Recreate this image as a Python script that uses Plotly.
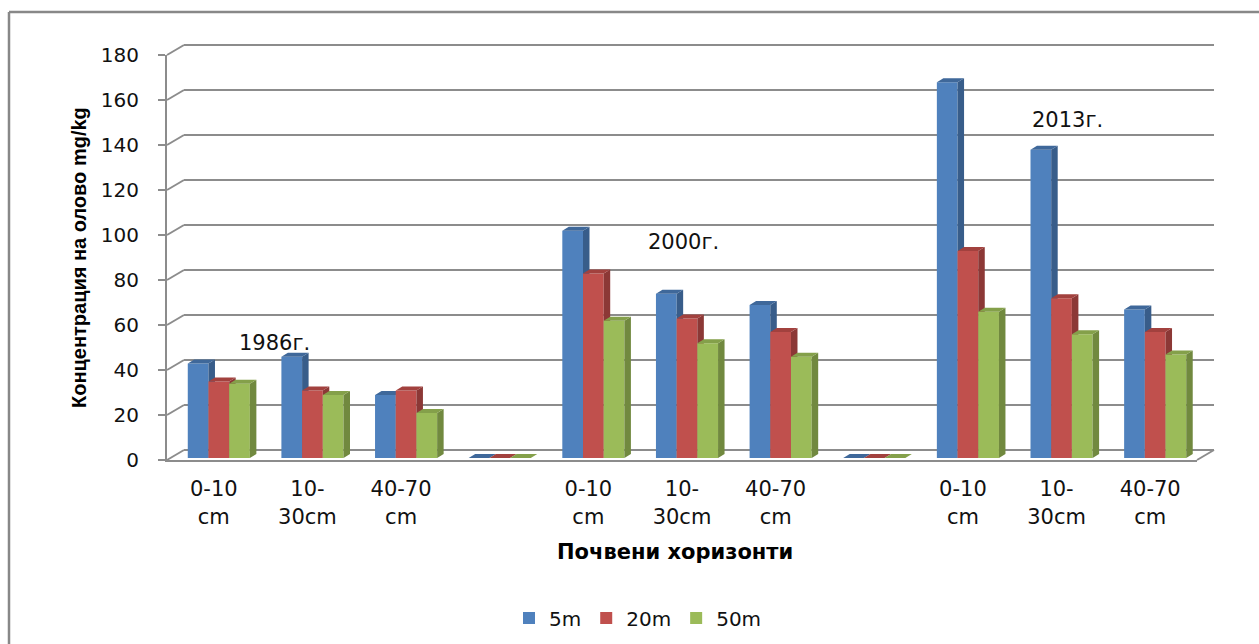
import plotly.graph_objects as go

# ---- data -------------------------------------------------------------
horizons = ["0-10<br>cm", "10-<br>30cm", "40-70<br>cm", "",
            "0-10<br>cm", "10-<br>30cm", "40-70<br>cm", "",
            "0-10<br>cm", "10-<br>30cm", "40-70<br>cm"]
series_names = ["5m", "20m", "50m"]
lead_5m = [42, 45, 28, 0, 101, 73, 68, 0, 167, 137, 66]
lead_20m = [34, 30, 30, 0, 82, 62, 56, 0, 92, 71, 56]
lead_50m = [33, 28, 20, 0, 61, 51, 45, 0, 65, 55, 46]
year_labels = ["1986г.", "2000г.", "2013г."]
y_ticks = list(range(0, 181, 20))

front_colors = ["#4F81BD", "#C0504D", "#9BBB59"]
side_colors = ["#385D8A", "#8C3836", "#71893F"]
top_colors = ["#3F689A", "#A2413E", "#84A04A"]

# ---- page geometry (pixels) --------------------------------------------
W, H = 1259, 644
FX0, FX1 = 167, 1197          # front edge of the floor
FY0, FYTOP = 460, 55          # front axis: value 0 and value 180
YMAX = 180
K = (FY0 - FYTOP) / YMAX      # pixels per unit
WALL_DX, WALL_DY = 17, 10     # depth of the back wall
BAR_DX, BAR_DY = 5, 2         # bars stand a little behind the front edge
BAR_W_PX = 20.7
DEPTH_DX, DEPTH_DY = 6.5, 4   # own depth of each column
N = len(horizons)
UNIT = (FX1 - FX0) / N


def px(x):
    return x / W


def py(y):
    return 1 - y / H


def xdom(x0, x1):
    return [px(x0), px(x1)]


def ydom(ybottom, ytop):
    return [py(ybottom), py(ytop)]


fig = go.Figure()

# empty trace that keeps the back-wall subplot alive
fig.add_trace(go.Scatter(x=[None], y=[None], xaxis="x", yaxis="y",
                         showlegend=False, hoverinfo="skip"))

# ---- columns: one subplot per series so that later series cover the
# ---- hidden side walls of the previous one
bar_w = BAR_W_PX / UNIT
ddx = DEPTH_DX / UNIT
ddy = DEPTH_DY / K
positions = list(range(N))
all_series = [lead_5m, lead_20m, lead_50m]
for s, vals in enumerate(all_series):
    ax_id = s + 3
    xa, ya = f"x{ax_id}", f"y{ax_id}"
    off = -1.5 * bar_w + s * bar_w
    fig.add_trace(go.Bar(
        x=positions, y=vals, width=bar_w, offset=off,
        marker=dict(color=front_colors[s], line=dict(width=0)),
        name=series_names[s], xaxis=xa, yaxis=ya, showlegend=True,
    ))
    sx, sy, tx, ty = [], [], [], []
    for i, v in zip(positions, vals):
        x0 = i + off
        x1 = x0 + bar_w
        sx += [x1, x1 + ddx, x1 + ddx, x1, x1, None]
        sy += [0, ddy, v + ddy, v, 0, None]
        tx += [x0, x1, x1 + ddx, x0 + ddx, x0, None]
        ty += [v, v, v + ddy, v + ddy, v, None]
    fig.add_trace(go.Scatter(
        x=sx, y=sy, mode="lines", fill="toself", fillcolor=side_colors[s],
        line=dict(width=0, color=side_colors[s]), hoverinfo="skip",
        showlegend=False, xaxis=xa, yaxis=ya,
    ))
    fig.add_trace(go.Scatter(
        x=tx, y=ty, mode="lines", fill="toself", fillcolor=top_colors[s],
        line=dict(width=0, color=top_colors[s]), hoverinfo="skip",
        showlegend=False, xaxis=xa, yaxis=ya,
    ))

grid_color = "#8C8C8C"
tick_font = dict(family="DejaVu Sans", size=20, color="#111111")

hidden = dict(visible=False, fixedrange=True)
bare = dict(showticklabels=False, ticks="", showline=False, zeroline=False,
            showgrid=False, fixedrange=True)
layout_axes = {}
# back wall carrying the grid lines
pad = 2
layout_axes["xaxis"] = dict(bare, domain=xdom(FX0 + WALL_DX, FX1 + WALL_DX),
                            range=[-0.5, N - 0.5], anchor="y")
layout_axes["yaxis"] = dict(
    bare, domain=ydom(FY0 - WALL_DY + pad * K, FYTOP - WALL_DY - pad * K),
    range=[-pad, YMAX + pad], anchor="x", tickmode="array", tickvals=y_ticks,
    showgrid=True, gridcolor=grid_color, gridwidth=2,
)
# front axes with the labels
layout_axes["xaxis2"] = dict(
    domain=xdom(FX0, FX1), range=[-0.5, N - 0.5], anchor="y2",
    tickmode="array", tickvals=positions, ticktext=horizons,
    ticks="", showgrid=False, zeroline=False, showline=True,
    linecolor=grid_color, linewidth=2, tickfont=dict(tick_font, size=21),
    ticklabelstandoff=9, fixedrange=True, automargin=False,
)
layout_axes["yaxis2"] = dict(
    domain=ydom(FY0, FYTOP), range=[0, YMAX], anchor="x2",
    tickmode="array", tickvals=y_ticks, ticks="outside", ticklen=7,
    tickcolor=grid_color, tickwidth=2, showgrid=False, zeroline=False,
    showline=True, linecolor=grid_color, linewidth=2, tickfont=tick_font,
    ticklabelstandoff=15, fixedrange=True, automargin=False,
)
# series subplots
for s in range(3):
    ax_id = s + 3
    layout_axes[f"xaxis{ax_id}"] = dict(
        hidden, domain=xdom(FX0 + BAR_DX, FX1 + BAR_DX),
        range=[-0.5, N - 0.5], anchor=f"y{ax_id}")
    layout_axes[f"yaxis{ax_id}"] = dict(
        hidden, domain=ydom(FY0 - BAR_DY, FYTOP - BAR_DY),
        range=[0, YMAX], anchor=f"x{ax_id}")

# ---- frame: left wall links, floor edge, outer border ---------------------
shapes = []
for v in y_ticks:
    yf = FY0 - v * K
    shapes.append(dict(type="line", xref="paper", yref="paper",
                       x0=px(FX0), y0=py(yf), x1=px(FX0 + WALL_DX),
                       y1=py(yf - WALL_DY),
                       line=dict(color=grid_color, width=2), layer="below"))
shapes.append(dict(type="line", xref="paper", yref="paper",
                   x0=px(FX1), y0=py(FY0), x1=px(FX1 + WALL_DX),
                   y1=py(FY0 - WALL_DY),
                   line=dict(color=grid_color, width=2), layer="below"))
shapes.append(dict(type="line", xref="paper", yref="paper",
                   x0=px(9), y0=py(12), x1=1, y1=py(12),
                   line=dict(color="#888888", width=2.5)))
shapes.append(dict(type="line", xref="paper", yref="paper",
                   x0=px(9), y0=py(12), x1=px(9), y1=0,
                   line=dict(color="#888888", width=2.5)))

# ---- text ---------------------------------------------------------------
annotations = []
year_pos = [(0.65, 52), (5.02, 97), (9.12, 151)]
for label, (xv, yv) in zip(year_labels, year_pos):
    annotations.append(dict(text=label, x=xv, y=yv, xref="x2", yref="y2",
                            xanchor="center", yanchor="middle",
                            showarrow=False, font=dict(tick_font, size=21)))
annotations.append(dict(
    text="<b>Концентрация на олово mg/kg</b>", textangle=-90,
    x=px(79), y=py(258), xref="paper", yref="paper", showarrow=False,
    xanchor="center", yanchor="middle",
    font=dict(family="Liberation Sans", size=20, color="#000000")))
annotations.append(dict(
    text="<b>Почвени хоризонти</b>",
    x=px(675), y=py(552), xref="paper", yref="paper", showarrow=False,
    xanchor="center", yanchor="middle",
    font=dict(family="DejaVu Sans", size=21, color="#000000")))

fig.update_layout(
    width=W, height=H, autosize=False,
    margin=dict(l=0, r=0, t=0, b=0, pad=0, autoexpand=False),
    paper_bgcolor="white", plot_bgcolor="rgba(0,0,0,0)",
    barmode="overlay", shapes=shapes, annotations=annotations,
    legend=dict(orientation="h", x=px(638), xanchor="center",
                y=py(618), yanchor="middle", itemwidth=30,
                font=dict(family="DejaVu Sans", size=20, color="#111111"),
                bgcolor="rgba(0,0,0,0)", itemclick=False),
    hovermode=False,
    **layout_axes,
)

fig.write_html("out.html")
